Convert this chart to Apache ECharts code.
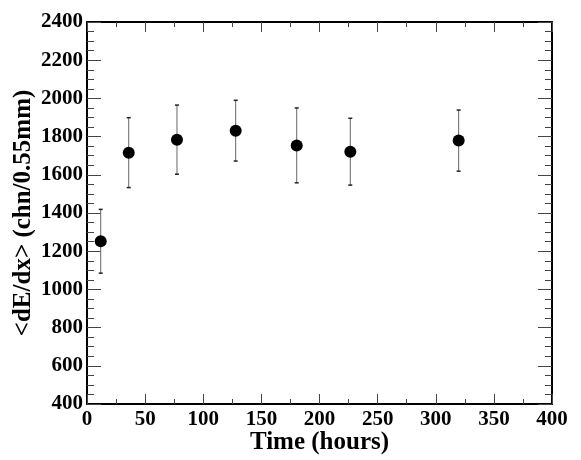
<!DOCTYPE html>
<html>
<head>
<meta charset="utf-8">
<script src="https://cdn.jsdelivr.net/npm/echarts@6/dist/echarts.min.js"></script>
<style>
  html, body { margin: 0; padding: 0; background: #fff; }
  #chart { width: 581px; height: 460px; }
</style>
</head>
<body>
<div id="chart"></div>
<script>
// data
var times = [11.8, 35.9, 77.4, 127.9, 180.4, 226.5, 319.7];
var dedx = [1252, 1716, 1784, 1831, 1754, 1721, 1779];
var dedxErr = [167, 183, 181, 159, 196, 175, 160];

var font = 'Liberation Serif';

var points = times.map(function (t, i) { return [t, dedx[i]]; });
var bars = times.map(function (t, i) { return [t, dedx[i] - dedxErr[i], dedx[i] + dedxErr[i]]; });

var myChart = echarts.init(document.getElementById('chart'));

var xBase = {
  type: 'value', min: 0, max: 400, interval: 50,
  axisLine: { show: true, onZero: false, lineStyle: { color: '#000', width: 2 } },
  axisTick: { show: true, inside: true, length: 10, lineStyle: { color: '#444', width: 1 } },
  minorTick: { show: true, splitNumber: 2, length: 5, lineStyle: { color: '#444', width: 1 } },
  splitLine: { show: false }
};
var yBase = {
  type: 'value', min: 400, max: 2400, interval: 200,
  axisLine: { show: true, onZero: false, lineStyle: { color: '#000', width: 2 } },
  axisTick: { show: true, inside: true, length: 14, lineStyle: { color: '#444', width: 1 } },
  minorTick: { show: true, splitNumber: 4, length: 7, lineStyle: { color: '#444', width: 1 } },
  splitLine: { show: false }
};

option = {
  backgroundColor: '#fff',
  animation: false,
  grid: { left: 87, right: 29, top: 22, bottom: 56, outerBoundsMode: 'none', containLabel: false },
  xAxis: [
    Object.assign({}, xBase, {
      position: 'bottom',
      name: 'Time (hours)', nameLocation: 'middle', nameGap: 26, nameMoveOverlap: false,
      nameTextStyle: { fontFamily: font, fontWeight: 'bold', fontSize: 25, color: '#000' },
      axisLabel: { show: true, margin: 5, fontFamily: font, fontWeight: 'bold', fontSize: 21, color: '#000',
        formatter: function (v) { return String(v); } }
    }),
    Object.assign({}, xBase, { position: 'top', axisLabel: { show: false } })
  ],
  yAxis: [
    Object.assign({}, yBase, {
      position: 'left',
      name: '<dE/dx> (chn/0.55mm)', nameLocation: 'middle', nameGap: 51, nameMoveOverlap: false,
      nameTextStyle: { fontFamily: font, fontWeight: 'bold', fontSize: 25, color: '#000' },
      axisLabel: { show: true, margin: 4, fontFamily: font, fontWeight: 'bold', fontSize: 21, color: '#000',
        formatter: function (v) { return String(v); } }
    }),
    Object.assign({}, yBase, { position: 'right', axisLabel: { show: false } })
  ],
  series: [
    {
      type: 'custom',
      data: bars,
      z: 2,
      renderItem: function (params, api) {
        var x = api.value(0);
        var lo = api.coord([x, api.value(1)]);
        var hi = api.coord([x, api.value(2)]);
        var cap = 2;
        var st = { stroke: '#666', lineWidth: 1 };
        return {
          type: 'group',
          children: [
            { type: 'line', shape: { x1: lo[0], y1: lo[1], x2: hi[0], y2: hi[1] }, style: st },
            { type: 'line', shape: { x1: lo[0] - cap, y1: lo[1], x2: lo[0] + cap, y2: lo[1] }, style: { stroke: '#222', lineWidth: 1.5 } },
            { type: 'line', shape: { x1: hi[0] - cap, y1: hi[1], x2: hi[0] + cap, y2: hi[1] }, style: { stroke: '#222', lineWidth: 1.5 } }
          ]
        };
      }
    },
    {
      type: 'scatter',
      data: points,
      z: 3,
      symbol: 'circle',
      symbolSize: 12,
      itemStyle: { color: '#000', opacity: 1 }
    }
  ]
};
myChart.setOption(option);
</script>
</body>
</html>
